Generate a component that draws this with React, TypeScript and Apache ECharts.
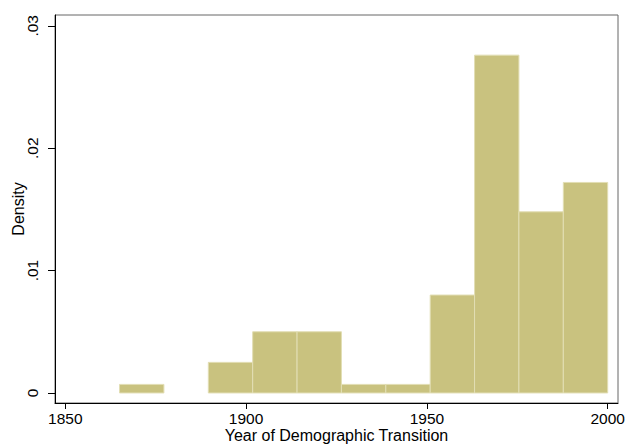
import React, { useEffect, useRef } from "react";
import * as echarts from "echarts";

// Histogram bins (year ranges) and densities
const binStart = [1865, 1877.27, 1889.55, 1901.82, 1914.09, 1926.36, 1938.64, 1950.91, 1963.18, 1975.45, 1987.73];
const binEnd = [1877.27, 1889.55, 1901.82, 1914.09, 1926.36, 1938.64, 1950.91, 1963.18, 1975.45, 1987.73, 2000];
const density = [0.0007, 0, 0.0025, 0.005, 0.005, 0.0007, 0.0007, 0.0080, 0.0276, 0.0148, 0.0172];

const xTicks = [1850, 1900, 1950, 2000];
const xTickLabels = ["1850", "1900", "1950", "2000"];
const yTicks = [0, 0.01, 0.02, 0.03];
const yTickLabels = ["0", ".01", ".02", ".03"];

const FONT = "'Liberation Sans', Arial, Helvetica, sans-serif";

function pick(ticks: number[], labels: string[], v: number) {
  const idx = ticks.findIndex((t) => Math.abs(t - v) < 1e-6);
  return idx >= 0 ? labels[idx] : "";
}

export default function App() {
  const ref = useRef<HTMLDivElement>(null);
  useEffect(() => {
    if (!ref.current) return;
    const chart = echarts.init(ref.current, undefined, { renderer: "svg" });
    const data = binStart.map((s, i) => [s, binEnd[i], density[i]]);
    chart.setOption({
      animation: false,
      backgroundColor: "#ffffff",
      textStyle: { fontFamily: FONT },
      grid: {
        left: 55,
        right: 8,
        top: 15,
        bottom: 41,
        outerBoundsMode: "none",
        containLabel: false,
        show: true,
        borderColor: "#666666",
        borderWidth: 1,
      },
      xAxis: {
        type: "value",
        min: 1847.15,
        max: 2002.85,
        name: "Year of Demographic Transition",
        nameLocation: "middle",
        nameGap: 24,
        nameMoveOverlap: false,
        nameTextStyle: { fontSize: 16, color: "#000", fontFamily: FONT },
        axisLine: { show: true, onZero: false, lineStyle: { color: "#000", width: 1 } },
        axisTick: { show: true, length: 6, customValues: xTicks, lineStyle: { color: "#000" } },
        axisLabel: {
          customValues: xTicks,
          margin: 7,
          fontSize: 15.5,
          color: "#000",
          fontFamily: FONT,
          formatter: (v: number) => pick(xTicks, xTickLabels, v),
        },
        splitLine: { show: false },
      },
      yAxis: {
        type: "value",
        min: -0.00082,
        max: 0.03088,
        name: "Density",
        nameLocation: "middle",
        nameGap: 29,
        nameRotate: 90,
        nameMoveOverlap: false,
        nameTextStyle: { fontSize: 16, color: "#000", fontFamily: FONT },
        axisLine: { show: true, onZero: false, lineStyle: { color: "#000", width: 1 } },
        axisTick: { show: true, length: 7, customValues: yTicks, lineStyle: { color: "#000" } },
        axisLabel: {
          customValues: yTicks,
          rotate: 90,
          margin: 15,
          fontSize: 15.5,
          color: "#000",
          fontFamily: FONT,
          formatter: (v: number) => pick(yTicks, yTickLabels, v),
        },
        splitLine: { show: false },
      },
      series: [
        {
          type: "custom",
          data,
          renderItem: (params: any, api: any) => {
            const s = api.value(0);
            const e = api.value(1);
            const v = api.value(2);
            if (!v) return null;
            const p0 = api.coord([s, v]);
            const p1 = api.coord([e, 0]);
            return {
              type: "rect",
              shape: { x: p0[0], y: p0[1], width: p1[0] - p0[0], height: p1[1] - p0[1] },
              style: { fill: "#C9C27F", stroke: "#E2DEB4", lineWidth: 1 },
            };
          },
          encode: { x: [0, 1], y: 2 },
        },
      ],
    });
    return () => chart.dispose();
  }, []);
  return (
    <div
      ref={ref}
      style={{ position: "fixed", left: 0, top: 0, width: 626, height: 444, background: "#fff" }}
    />
  );
}
